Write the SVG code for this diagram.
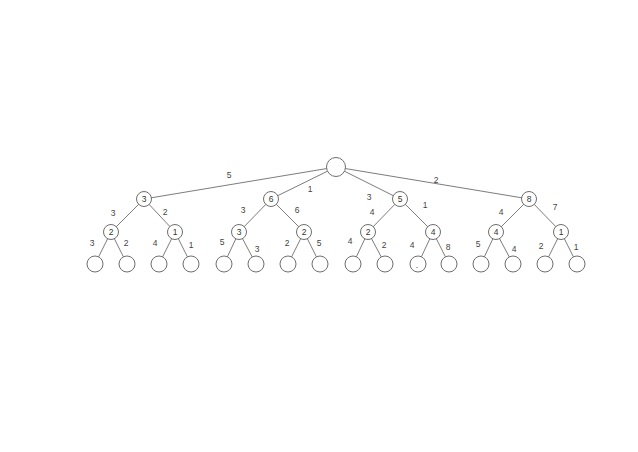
<svg xmlns="http://www.w3.org/2000/svg" width="638" height="452" viewBox="0 0 638 452">
<style>
.e{stroke:#7c7c7c;stroke-width:1;fill:none}
.n{fill:#fff;stroke:#6e6e6e;stroke-width:1}
.t{font-family:"Liberation Sans",Arial,sans-serif;font-size:8.5px;fill:#333;text-anchor:middle}
.l{font-family:"Liberation Sans",Arial,sans-serif;font-size:8.5px;fill:#444;text-anchor:middle}
</style>
<rect width="638" height="452" fill="#fff"/>
<g id="connectors">
<line class="e" x1="336" y1="167" x2="144" y2="199"/>
<line class="e" x1="336" y1="167" x2="271" y2="199"/>
<line class="e" x1="336" y1="167" x2="400" y2="199"/>
<line class="e" x1="336" y1="167" x2="529" y2="199"/>
<line class="e" x1="144" y1="199" x2="111" y2="232"/>
<line class="e" x1="144" y1="199" x2="175" y2="232"/>
<line class="e" x1="271" y1="199" x2="239" y2="232"/>
<line class="e" x1="271" y1="199" x2="304" y2="232"/>
<line class="e" x1="400" y1="199" x2="368" y2="232"/>
<line class="e" x1="400" y1="199" x2="433" y2="232"/>
<line class="e" x1="529" y1="199" x2="496" y2="232"/>
<line class="e" x1="529" y1="199" x2="561" y2="232"/>
<line class="e" x1="111" y1="232" x2="95" y2="264"/>
<line class="e" x1="111" y1="232" x2="127" y2="264"/>
<line class="e" x1="175" y1="232" x2="159" y2="264"/>
<line class="e" x1="175" y1="232" x2="191" y2="264"/>
<line class="e" x1="239" y1="232" x2="224" y2="264"/>
<line class="e" x1="239" y1="232" x2="256" y2="264"/>
<line class="e" x1="304" y1="232" x2="288" y2="264"/>
<line class="e" x1="304" y1="232" x2="320" y2="264"/>
<line class="e" x1="368" y1="232" x2="353" y2="264"/>
<line class="e" x1="368" y1="232" x2="385" y2="264"/>
<line class="e" x1="433" y1="232" x2="418" y2="264"/>
<line class="e" x1="433" y1="232" x2="449" y2="264"/>
<line class="e" x1="496" y1="232" x2="481" y2="264"/>
<line class="e" x1="496" y1="232" x2="513" y2="264"/>
<line class="e" x1="561" y1="232" x2="545" y2="264"/>
<line class="e" x1="561" y1="232" x2="577" y2="264"/>
</g>
<g id="edge-labels">
<text class="l" x="229" y="178">5</text>
<text class="l" x="310" y="192">1</text>
<text class="l" x="369" y="200">3</text>
<text class="l" x="436" y="183">2</text>
<text class="l" x="113" y="216">3</text>
<text class="l" x="165" y="215">2</text>
<text class="l" x="243" y="213">3</text>
<text class="l" x="297" y="213">6</text>
<text class="l" x="372" y="215">4</text>
<text class="l" x="425" y="208">1</text>
<text class="l" x="501" y="215">4</text>
<text class="l" x="555" y="210">7</text>
<text class="l" x="92" y="246">3</text>
<text class="l" x="126" y="246">2</text>
<text class="l" x="155" y="246">4</text>
<text class="l" x="191" y="248">1</text>
<text class="l" x="222" y="245">5</text>
<text class="l" x="257" y="252">3</text>
<text class="l" x="287" y="246">2</text>
<text class="l" x="319" y="246">5</text>
<text class="l" x="350" y="244">4</text>
<text class="l" x="384" y="248">2</text>
<text class="l" x="412" y="248">4</text>
<text class="l" x="448" y="250">8</text>
<text class="l" x="478" y="247">5</text>
<text class="l" x="514" y="252">4</text>
<text class="l" x="541" y="249">2</text>
<text class="l" x="576" y="250">1</text>
</g>
<g id="root"><circle class="n" cx="336" cy="167" r="9.5"/></g>
<g id="n1"><circle class="n" cx="144" cy="199" r="7.5"/><text class="t" x="144" y="202">3</text></g>
<g id="n2"><circle class="n" cx="271" cy="199" r="7.5"/><text class="t" x="271" y="202">6</text></g>
<g id="n3"><circle class="n" cx="400" cy="199" r="7.5"/><text class="t" x="400" y="202">5</text></g>
<g id="n4"><circle class="n" cx="529" cy="199" r="7.5"/><text class="t" x="529" y="202">8</text></g>
<g id="n11"><circle class="n" cx="111" cy="232" r="7.5"/><text class="t" x="111" y="235">2</text></g>
<g id="n12"><circle class="n" cx="175" cy="232" r="7.5"/><text class="t" x="175" y="235">1</text></g>
<g id="n21"><circle class="n" cx="239" cy="232" r="7.5"/><text class="t" x="239" y="235">3</text></g>
<g id="n22"><circle class="n" cx="304" cy="232" r="7.5"/><text class="t" x="304" y="235">2</text></g>
<g id="n31"><circle class="n" cx="368" cy="232" r="7.5"/><text class="t" x="368" y="235">2</text></g>
<g id="n32"><circle class="n" cx="433" cy="232" r="7.5"/><text class="t" x="433" y="235">4</text></g>
<g id="n41"><circle class="n" cx="496" cy="232" r="7.5"/><text class="t" x="496" y="235">4</text></g>
<g id="n42"><circle class="n" cx="561" cy="232" r="7.5"/><text class="t" x="561" y="235">1</text></g>
<g id="leaf1"><circle class="n" cx="95" cy="264" r="8"/></g>
<g id="leaf2"><circle class="n" cx="127" cy="264" r="8"/></g>
<g id="leaf3"><circle class="n" cx="159" cy="264" r="8"/></g>
<g id="leaf4"><circle class="n" cx="191" cy="264" r="8"/></g>
<g id="leaf5"><circle class="n" cx="224" cy="264" r="8"/></g>
<g id="leaf6"><circle class="n" cx="256" cy="264" r="8"/></g>
<g id="leaf7"><circle class="n" cx="288" cy="264" r="8"/></g>
<g id="leaf8"><circle class="n" cx="320" cy="264" r="8"/></g>
<g id="leaf9"><circle class="n" cx="353" cy="264" r="8"/></g>
<g id="leaf10"><circle class="n" cx="385" cy="264" r="8"/></g>
<g id="leaf11"><circle class="n" cx="418" cy="264" r="8"/><text class="t" x="417" y="268">.</text></g>
<g id="leaf12"><circle class="n" cx="449" cy="264" r="8"/></g>
<g id="leaf13"><circle class="n" cx="481" cy="264" r="8"/></g>
<g id="leaf14"><circle class="n" cx="513" cy="264" r="8"/></g>
<g id="leaf15"><circle class="n" cx="545" cy="264" r="8"/></g>
<g id="leaf16"><circle class="n" cx="577" cy="264" r="8"/></g>
</svg>
